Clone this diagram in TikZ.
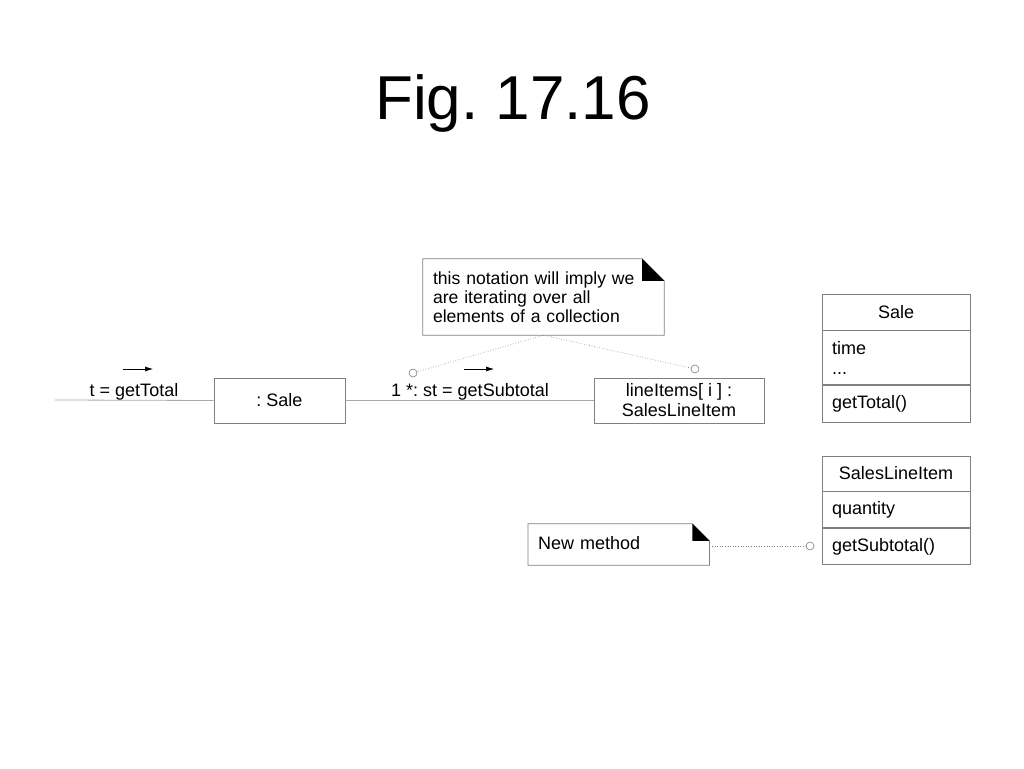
\documentclass[tikz,border=0pt]{standalone}
\usepackage{fontspec}
\setmainfont{Liberation Sans}
\usetikzlibrary{positioning,arrows.meta}

\definecolor{boxgray}{HTML}{808080}
\definecolor{linegray}{HTML}{A8A8A8}

\begin{document}
\frenchspacing
\begin{tikzpicture}[x=1pt,y=1pt,
  every node/.style={font=\fontsize{18}{20}\selectfont},
  objbox/.style={draw=boxgray, line width=0.8pt, inner sep=0pt, align=center},
  clsrow/.style={draw=boxgray, line width=0.8pt, minimum width=148pt, inner xsep=10pt, text width=128pt, inner ysep=0pt},
  notebox/.style={inner xsep=10pt, inner ysep=0pt, align=left},
  pin/.style={circle, draw=boxgray, line width=0.6pt, fill=white, minimum size=8pt, inner sep=0pt},
  msg/.style={-{Latex[length=8pt,width=5pt]}, line width=0.6pt},
  link/.style={draw=linegray, line width=0.8pt},
  anchorline/.style={draw=boxgray, line width=0.6pt, dotted}
]
\useasboundingbox (0,0) rectangle (1024,768);

\node[anchor=base, font=\fontsize{62}{62}\selectfont] (title) at (513,648) {Fig. 17.16};

% collaboration diagram
\coordinate (start) at (55,368);
\node[objbox, minimum width=131pt, minimum height=45pt] (sale) at (279.5,367.5) {: Sale};
\node[objbox, minimum width=170pt, minimum height=45pt, font=\fontsize{18}{20}\selectfont] (items) at (679,367.5) {lineItems[ i ] :\\SalesLineItem};

\draw[link] (start) -- (sale.west);
\draw[link] (sale.east) -- (items.west);

\node[anchor=base] (gettotal) at (134,371) {t = getTotal};
\node[anchor=base] (getsub) at (470,371) {1 *: st = getSubtotal};
\coordinate (m1a) at (123,399);
\coordinate (m1b) at (153,399);
\coordinate (m2a) at (464,399);
\coordinate (m2b) at (494,399);
\draw[msg] (m1a) -- (m1b);
\draw[msg] (m2a) -- (m2b);

% note about iteration
\node[notebox, text width=221pt, minimum height=76pt, font=\fontsize{17.6}{19}\selectfont] (note) at (543.5,471)
  {this notation will imply we\\are iterating over all\\elements of a collection};
\draw[boxgray, line width=0.8pt] (note.north west) -- ([xshift=-22pt]note.north east)
  -- ([yshift=-22pt]note.north east) -- (note.south east) -- (note.south west) -- cycle;
\fill ([xshift=-22pt]note.north east) -- ([xshift=-22pt,yshift=-22pt]note.north east)
  -- ([yshift=-22pt]note.north east) -- cycle;

\node[pin] (pina) at (413,395) {};
\node[pin] (pinb) at (695,399) {};
\draw[anchorline] (note.south) -- (pina);
\draw[anchorline] (note.south) -- (pinb);

% class Sale
\node[clsrow, minimum height=36pt, align=center] (salename) at (896,456) {Sale};
\node[clsrow, minimum height=54pt, align=left, below=0pt of salename] (saleattr) {time\\...};
\node[clsrow, minimum height=37pt, align=left, below=0pt of saleattr] (saleops) {getTotal()};

% class SalesLineItem
\node[clsrow, minimum height=35pt, align=center] (slname) at (896,294.5) {SalesLineItem};
\node[clsrow, minimum height=36pt, align=left, below=0pt of slname] (slattr) {quantity};
\node[clsrow, minimum height=36pt, align=left, below=0pt of slattr] (slops) {getSubtotal()};

% note about new method
\node[notebox, text width=161pt, minimum height=41pt, anchor=west] (newnote) at (528,223.5) {New method\vphantom{g}};
\draw[boxgray, line width=0.8pt] (newnote.north west) -- ([xshift=-17pt]newnote.north east)
  -- ([yshift=-17pt]newnote.north east) -- (newnote.south east) -- (newnote.south west) -- cycle;
\fill ([xshift=-17pt]newnote.north east) -- ([xshift=-17pt,yshift=-17pt]newnote.north east)
  -- ([yshift=-17pt]newnote.north east) -- cycle;

\node[pin] (pinc) at (810,222) {};
\draw[anchorline] (newnote.east |- pinc) -- (pinc);

\end{tikzpicture}
\end{document}
